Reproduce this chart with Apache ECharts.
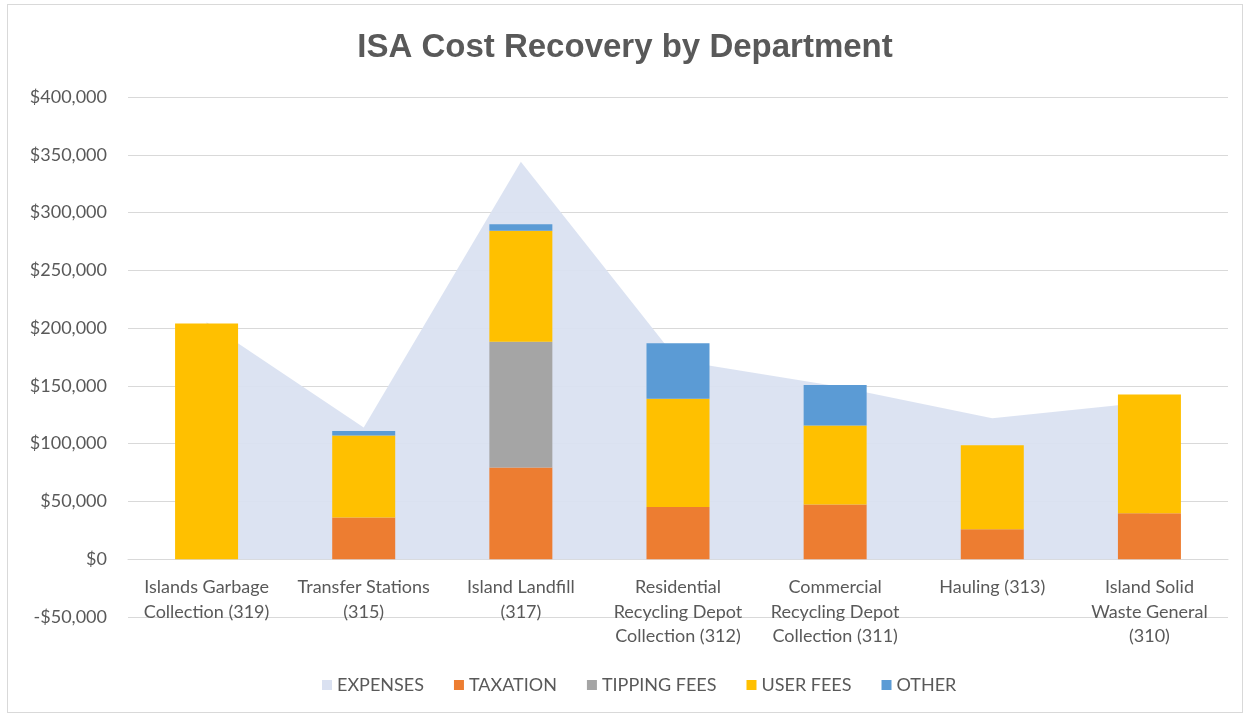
<!DOCTYPE html>
<html>
<head>
<meta charset="utf-8">
<title>ISA Cost Recovery by Department</title>
<script src="https://cdn.jsdelivr.net/npm/echarts@6/dist/echarts.min.js"></script>
<style>
  html, body { margin: 0; padding: 0; background: #fff; }
  #frame { position: absolute; left: 7px; top: 4px; width: 1234px; height: 707px; border: 1px solid #d9d9d9; }
  #main { position: absolute; left: 0; top: 0; width: 1250px; height: 717px; }
</style>
</head>
<body>
<div id="frame"></div>
<div id="main"></div>
<script>
// departments, in the order shown on the x axis
var departments = [
  'Islands Garbage\nCollection (319)',
  'Transfer Stations\n(315)',
  'Island Landfill\n(317)',
  'Residential\nRecycling Depot\nCollection (312)',
  'Commercial\nRecycling Depot\nCollection (311)',
  'Hauling (313)',
  'Island Solid\nWaste General\n(310)'
];

// values, in dollars
var expenses    = [205000, 114000, 344000, 172000, 150000, 122000, 136000];
var taxation    = [0, 36000, 79400, 45300, 47400, 26000, 39800];
var tippingFees = [0, 0, 108700, 0, 0, 0, 0];
var userFees    = [204000, 71000, 96100, 93500, 68400, 72700, 102800];
var other       = [0, 4000, 5600, 48000, 34900, 0, 0];

var yMin = -50000, yMax = 400000, yStep = 50000;

var font = "Lato, 'Liberation Sans', sans-serif";
var textColor = '#595959';

function money(v) {
  var s = Math.abs(v).toString().replace(/\B(?=(\d{3})+(?!\d))/g, ',');
  return (v < 0 ? '-$' : '$') + s;
}

var chart = echarts.init(document.getElementById('main'));

function barSeries(name, data, color) {
  return {
    name: name,
    type: 'bar',
    stack: 'recovery',
    barWidth: 63,
    itemStyle: { color: color },
    data: data,
    z: 3
  };
}

// grid is 520px tall for 450,000 dollars; lift the category axis to the $0 line
var gridTop = 97, gridBottom = 100, gridHeight = 717 - gridTop - gridBottom;
var zeroLift = gridHeight * (0 - yMin) / (yMax - yMin);

var option = {
  animation: false,
  title: {
    text: 'ISA Cost Recovery by Department',
    left: 'center',
    top: 26,
    textStyle: {
      fontFamily: "'Liberation Sans', Arial, sans-serif",
      fontSize: 33,
      fontWeight: 'bold',
      color: textColor
    }
  },
  legend: {
    bottom: 18,
    left: 317,
    icon: 'rect',
    itemWidth: 10,
    itemHeight: 10,
    itemGap: 30,
    textStyle: { fontFamily: font, fontSize: 18, color: textColor },
    data: ['EXPENSES', 'TAXATION', 'TIPPING FEES', 'USER FEES', 'OTHER']
  },
  grid: {
    left: 128,
    right: 22,
    top: gridTop,
    bottom: gridBottom
  },
  xAxis: {
    type: 'category',
    data: departments,
    offset: -zeroLift,
    axisLine: { show: true, onZero: false, lineStyle: { color: '#d9d9d9' } },
    axisTick: { show: false },
    axisLabel: {
      interval: 0,
      margin: 16,
      fontFamily: font,
      fontSize: 18,
      lineHeight: 24.5,
      color: textColor
    }
  },
  yAxis: {
    type: 'value',
    min: yMin,
    max: yMax,
    interval: yStep,
    axisLine: { show: false },
    axisTick: { show: false },
    splitLine: { lineStyle: { color: '#d9d9d9', width: 1 } },
    axisLabel: {
      margin: 21,
      fontFamily: font,
      fontSize: 18,
      color: textColor,
      formatter: money
    }
  },
  series: [
    {
      name: 'EXPENSES',
      type: 'line',
      data: expenses,
      symbol: 'none',
      lineStyle: { width: 0 },
      itemStyle: { color: '#dae1f1' },
      areaStyle: { color: '#dae1f1', opacity: 0.95 },
      z: 1
    },
    barSeries('TAXATION', taxation, '#ed7d31'),
    barSeries('TIPPING FEES', tippingFees, '#a5a5a5'),
    barSeries('USER FEES', userFees, '#ffc000'),
    barSeries('OTHER', other, '#5b9bd5')
  ]
};

chart.setOption(option);
</script>
</body>
</html>
